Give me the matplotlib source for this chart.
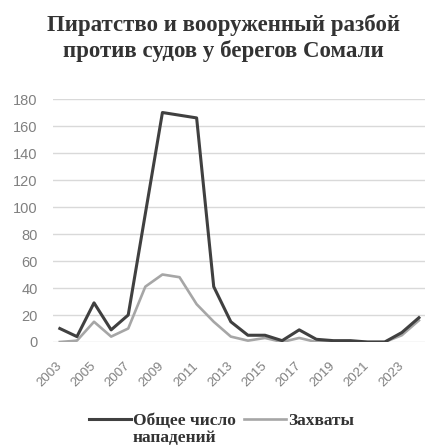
import matplotlib.pyplot as plt
from matplotlib.lines import Line2D

# data
years = list(range(2003, 2025))
total_attacks = [10, 4, 29, 9, 20, 95, 170, 168, 166, 41, 15, 5, 5, 1, 9, 2, 1, 1, 0, 0, 7, 18]
hijackings = [0, 1, 15, 4, 10, 41, 50, 48, 28, 15, 4, 1, 3, 0, 3, 0, 0, 0, 0, 0, 5, 16]
xtick_years = list(range(2003, 2025, 2))
yticks = list(range(0, 181, 20))

title = 'Пиратство и вооруженный разбой\nпротив судов у берегов Сомали'
label_total = 'Общее число'
label_total2 = 'нападений'
label_hij = 'Захваты'

dark = '#404040'
light = '#a6a6a6'
grey_txt = '#808080'

fig = plt.figure(figsize=(4.26, 4.47), dpi=100)
ax = fig.add_axes([0.1244, 0.2349, 0.873, 0.5436])

ax.plot(years, total_attacks, color=dark, lw=2.2, zorder=3)
ax.plot(years, hijackings, color=light, lw=1.9, zorder=2)

ax.set_xlim(2002.6, 2024.35)
ax.set_ylim(0, 180)
ax.set_yticks(yticks)
ax.set_xticks(xtick_years)
ax.set_xticklabels([str(y) for y in xtick_years], rotation=45, ha='right',
                   va='center', rotation_mode='anchor')
ax.tick_params(axis='both', length=0, labelcolor=grey_txt)
ax.tick_params(axis='y', pad=11, labelsize=10.5)
ax.tick_params(axis='x', pad=16, labelsize=9.5)
for lab in ax.get_xticklabels() + ax.get_yticklabels():
    lab.set_family('Liberation Sans')
ax.grid(axis='y', color='#d9d9d9', lw=1)
ax.set_axisbelow(True)
for s in ax.spines.values():
    s.set_visible(False)

fig.text(0.525, 0.915, title, ha='center', va='center', fontsize=16.5,
         family='Liberation Serif', weight='bold', color='#333333', linespacing=1.2)

# legend: first line of the long label in the legend, second line set below it
handles = [Line2D([], [], color=dark, lw=2.2), Line2D([], [], color=light, lw=1.9)]
fig.legend(handles, [label_total, label_hij], loc='center', ncol=2,
           bbox_to_anchor=(0.52, 1 - 421 / 447), frameon=False,
           prop={'family': 'Liberation Serif', 'size': 12.5, 'weight': 'bold'},
           handlelength=2.4, handletextpad=0.1, columnspacing=0.5,
           labelcolor='#333333')
fig.text(133 / 426, 1 - 438 / 447, label_total2, ha='left', va='center',
         family='Liberation Serif', fontsize=12.5, weight='bold', color='#333333')

fig.savefig('out.png', dpi=100)
